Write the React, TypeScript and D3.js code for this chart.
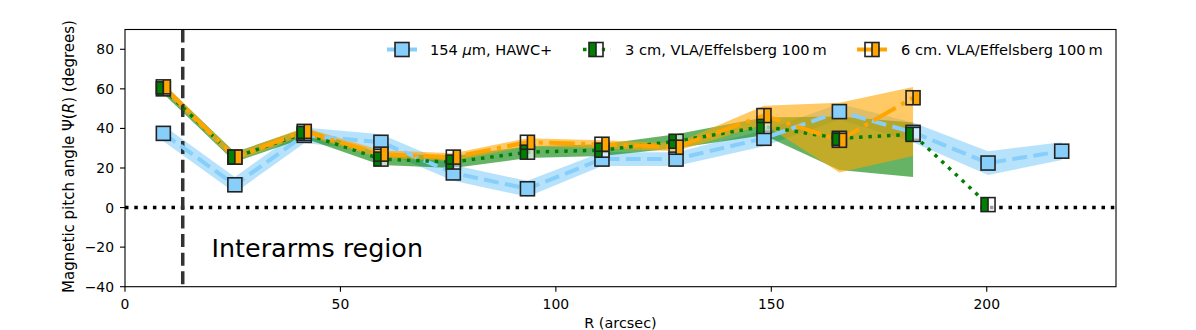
import React from "react";
import * as d3 from "d3";

// radii (arcsec) of the rings
const radius = [8.9, 25.5, 41.6, 59.4, 76.2, 93.4, 110.7, 127.9, 148.3, 165.8, 182.9, 200.3, 217.4];

// 154 um HAWC+
const hawc = [37.5, 11.5, 36.5, 33, 17.5, 9.5, 24.5, 24.5, 35, 48.5, 38, 22.5, 28.5];
const hawcErr = [4, 4, 4, 4, 4, 4, 3.5, 3.5, 4, 4, 5, 6, 4.5];

// 3 cm VLA/Effelsberg
const cm3 = [60, 25.5, 37.5, 24.5, 23, 28, 29, 33.5, 41, 35, 37, 1.5];
const cm3Lo = [57.5, 23, 35, 21.5, 20, 25, 26, 30, 36.5, 19, 15.5];
const cm3Hi = [62.5, 28, 40, 27.5, 26, 31, 32, 37, 45.5, 46, 43];

// 6 cm VLA/Effelsberg
const cm6 = [61, 25.5, 38.5, 27, 25.5, 33, 32, 30.5, 46.5, 34, 55.5];
const cm6Lo = [59, 23.5, 36.5, 25, 23.5, 31, 30, 28.5, 42, 17.7, 26];
const cm6Hi = [63, 27.5, 40.5, 29, 27.5, 35, 34, 32.5, 51.5, 53, 61];

const xTicks = [0, 50, 100, 150, 200];
const yTicks = [-40, -20, 0, 20, 40, 60, 80];
const interarmR = 13.4;

const W = 1196;
const H = 330;
const left = 125;
const right = 1116;
const top = 29.5;
const bottom = 286.7;

const BLUE = "#87CEFA";
const GREEN = "#008000";
const ORANGE = "#FFA500";
const EDGE = "#222";
const FONT = "DejaVu Sans, sans-serif";

const x = d3.scaleLinear().domain([0, 230]).range([left, right]);
const y = d3.scaleLinear().domain([-40, 90]).range([bottom, top]);

type Pt = { r: number; v: number; lo?: number; hi?: number };

const pts = (vals: number[], lo?: number[], hi?: number[]): Pt[] =>
  vals.map((v, i) => ({ r: radius[i], v, lo: lo ? lo[i] : undefined, hi: hi ? hi[i] : undefined }));

const hawcPts = pts(hawc, hawc.map((v, i) => v - hawcErr[i]), hawc.map((v, i) => v + hawcErr[i]));
const cm3Pts = pts(cm3, cm3Lo, cm3Hi);
const cm6Pts = pts(cm6, cm6Lo, cm6Hi);

const line = d3
  .line<Pt>()
  .x((d) => x(d.r))
  .y((d) => y(d.v));

const area = d3
  .area<Pt>()
  .defined((d) => d.lo !== undefined)
  .x((d) => x(d.r))
  .y0((d) => y(d.lo as number))
  .y1((d) => y(d.hi as number));

const Marker = ({ cx, cy, fill, half }: { cx: number; cy: number; fill: string; half: string }) => {
  const s = 14;
  const x0 = cx - s / 2;
  const y0 = cy - s / 2;
  return (
    <g>
      {half === "full" && <rect x={x0} y={y0} width={s} height={s} fill={fill} />}
      {half === "left" && (
        <>
          <rect x={cx} y={y0} width={s / 2} height={s} fill="white" fillOpacity={0.6} />
          <rect x={x0} y={y0} width={s / 2} height={s} fill={fill} />
        </>
      )}
      {half === "right" && <rect x={cx} y={y0} width={s / 2} height={s} fill={fill} />}
      <rect x={x0} y={y0} width={s} height={s} fill="none" stroke={EDGE} strokeWidth={1.6} />
      {half !== "full" && <line x1={cx} x2={cx} y1={y0} y2={y0 + s} stroke={EDGE} strokeWidth={1.6} />}
    </g>
  );
};

const series = [
  { label: "hawc", pts: hawcPts, color: BLUE, dash: "14.8,6.4", width: 4, half: "full" },
  { label: "cm3", pts: cm3Pts, color: GREEN, dash: "3.5,5.8", width: 3.5, half: "left" },
  { label: "cm6", pts: cm6Pts, color: ORANGE, dash: "25.6,6.4,4,6.4", width: 4, half: "right" },
];

const legend = [
  { cx: 402, tx: 430, s: series[0] },
  { cx: 596, tx: 625, s: series[1] },
  { cx: 872, tx: 901, s: series[2] },
];

export default function App() {
  return (
    <div style={{ position: "fixed", left: 0, top: 0 }}>
      <svg width={W} height={H} style={{ display: "block", background: "white" }} fontFamily={FONT}>
        {/* error bands */}
        <path d={area(hawcPts) || ""} fill={BLUE} fillOpacity={0.6} />
        <path d={area(cm3Pts) || ""} fill={GREEN} fillOpacity={0.6} />
        <path d={area(cm6Pts) || ""} fill={ORANGE} fillOpacity={0.6} />

        {/* reference lines */}
        <line x1={left} x2={right} y1={y(0)} y2={y(0)} stroke="black" strokeWidth={3.5} strokeDasharray="3.5,5.8" />
        <line x1={x(interarmR)} x2={x(interarmR)} y1={top} y2={bottom} stroke="#333" strokeWidth={3.5} strokeDasharray="13,5.6" />

        {series.map((s) => (
          <path key={s.label} d={line(s.pts) || ""} fill="none" stroke={s.color} strokeWidth={s.width} strokeDasharray={s.dash} />
        ))}

        {series.map((s) =>
          s.pts.map((p, i) => <Marker key={s.label + i} cx={x(p.r)} cy={y(p.v)} fill={s.color} half={s.half} />)
        )}

        <text x={211.5} y={256.7} fontSize={25.4} fill="black">
          Interarms region
        </text>

        {/* axes frame */}
        <rect x={left} y={top} width={right - left} height={bottom - top} fill="none" stroke="black" strokeWidth={1.1} />

        {xTicks.map((t) => (
          <g key={"x" + t}>
            <line x1={x(t)} x2={x(t)} y1={bottom} y2={bottom + 5} stroke="black" strokeWidth={1.1} />
            <text x={x(t)} y={309} fontSize={13.9} textAnchor="middle">
              {t}
            </text>
          </g>
        ))}
        {yTicks.map((t) => (
          <g key={"y" + t}>
            <line x1={left - 5} x2={left} y1={y(t)} y2={y(t)} stroke="black" strokeWidth={1.1} />
            <text x={114} y={y(t) + 5} fontSize={13.9} textAnchor="end">
              {t < 0 ? "\u2212" + Math.abs(t) : t}
            </text>
          </g>
        ))}

        <text x={(left + right) / 2} y={328} fontSize={14.4} textAnchor="middle">
          R (arcsec)
        </text>
        <text
          transform={`translate(74, 156.5) rotate(-90)`}
          fontSize={15}
          textAnchor="middle"
        >
          Magnetic pitch angle Ψ(<tspan fontStyle="italic">R</tspan>) (degrees)
        </text>

        {/* legend */}
        {legend.map((l) => (
          <g key={"lg" + l.s.label}>
            <line
              x1={l.cx - 15}
              x2={l.cx + 15}
              y1={49.5}
              y2={49.5}
              stroke={l.s.color}
              strokeWidth={l.s.width}
              strokeDasharray={l.s.label === "cm3" ? "3.5,5.8" : undefined}
              strokeDashoffset={l.s.label === "cm3" ? -2 : 0}
            />
            <Marker cx={l.cx} cy={49.5} fill={l.s.color} half={l.s.half} />
          </g>
        ))}
        <text x={430} y={55} fontSize={14.6}>
          154 <tspan fontStyle="italic">μ</tspan>m, HAWC+
        </text>
        <text x={625} y={55} fontSize={14.6}>
          3 cm, VLA/Effelsberg 100{"\u2009"}m
        </text>
        <text x={901} y={55} fontSize={14.6}>
          6 cm. VLA/Effelsberg 100{"\u2009"}m
        </text>
      </svg>
    </div>
  );
}
